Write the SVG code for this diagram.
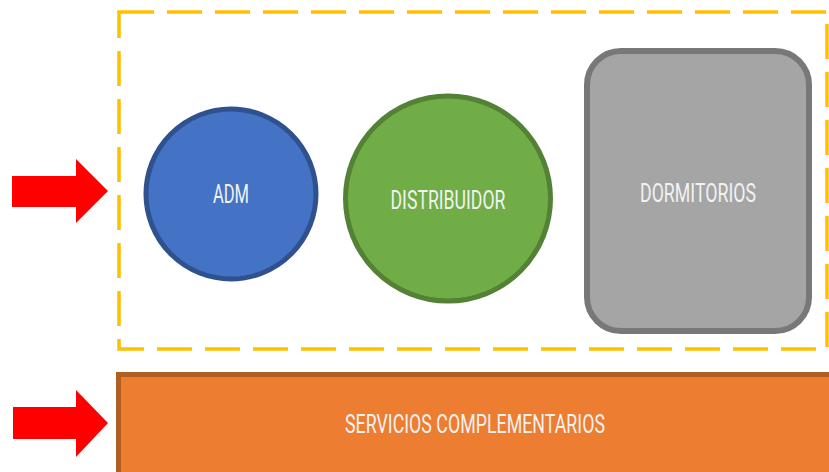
<svg xmlns="http://www.w3.org/2000/svg" width="829" height="472" viewBox="0 0 829 472">
<style>
.lbl{font-family:Roboto,"Liberation Sans",sans-serif;font-size:25px;fill:#F2F2F2;text-anchor:middle}
.arrow{fill:#FF0000}
</style>
<rect width="829" height="472" fill="#FFFFFF"/>
<g id="zone">
<rect x="119" y="12" width="708" height="337" fill="none" stroke="#FFC000" stroke-width="3.5" stroke-dasharray="35 13"/>
</g>
<g id="arrows">
<polygon class="arrow" points="12,176 76,176 76,159 108,191 76,223 76,207 12,207"/>
<polygon class="arrow" points="13,407 76,407 76,390 108,423 76,457 76,439 13,439"/>
</g>
<g id="adm">
<circle cx="231" cy="194" r="85" fill="#4472C4" stroke="#2F528F" stroke-width="5"/>
<text class="lbl" x="231" y="203" textLength="36" lengthAdjust="spacingAndGlyphs">ADM</text>
</g>
<g id="distribuidor">
<circle cx="448" cy="198.5" r="102.5" fill="#70AD47" stroke="#538135" stroke-width="5"/>
<text class="lbl" x="448" y="209" textLength="115" lengthAdjust="spacingAndGlyphs">DISTRIBUIDOR</text>
</g>
<g id="dormitorios">
<rect x="587" y="51" width="222" height="280" rx="34" ry="34" fill="#A5A5A5" stroke="#787878" stroke-width="6"/>
<text class="lbl" x="698" y="202" textLength="116" lengthAdjust="spacingAndGlyphs">DORMITORIOS</text>
</g>
<g id="servicios">
<rect x="118.5" y="374.5" width="720" height="110" fill="#ED7D31" stroke="#B15E23" stroke-width="5"/>
<text class="lbl" x="475" y="433" textLength="260" lengthAdjust="spacingAndGlyphs">SERVICIOS COMPLEMENTARIOS</text>
</g>
</svg>
